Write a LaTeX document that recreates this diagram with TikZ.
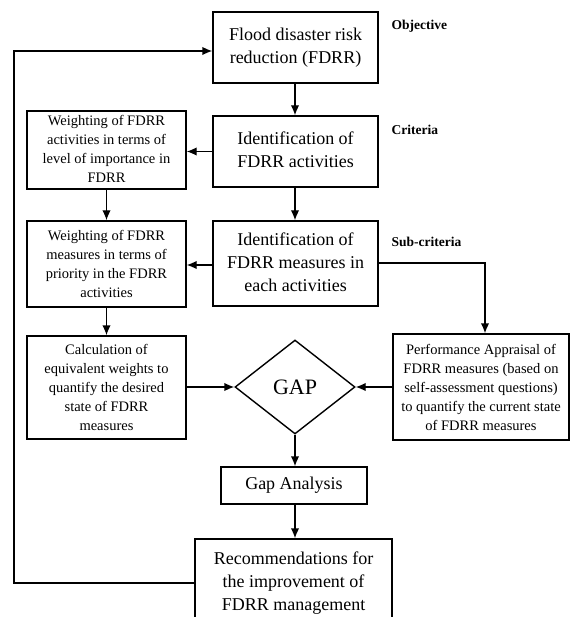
\documentclass[tikz,border=0pt]{standalone}
\usepackage{fontspec}
\setmainfont{Liberation Serif}
\usetikzlibrary{arrows.meta,shapes.geometric}
\newcommand{\upbox}[2]{\raisebox{#1}{\begin{tabular}{@{}c@{}}#2\end{tabular}}}
\tikzset{
  box/.style={draw, line width=1.4pt, rectangle, inner sep=0pt, align=center},
  big/.style={font=\fontsize{18}{23}\selectfont},
  small/.style={font=\fontsize{14.5}{19}\selectfont},
  tag/.style={anchor=west, font=\fontsize{13.5}{16}\selectfont\bfseries},
  arr/.style={line width=1.4pt, -{Latex[length=10pt,width=8.5pt]}},
}
\begin{document}
\begin{tikzpicture}[x=1pt,y=-1pt]
\useasboundingbox (0,0) rectangle (571,617);
% main column
\node[box,big,minimum width=165,minimum height=71] (top) at (295.5,47.5)
  {\upbox{9pt}{Flood disaster risk\\reduction (FDRR)}};
\node[box,big,minimum width=165,minimum height=71] (act) at (295.5,151.5)
  {\upbox{7pt}{Identification of\\FDRR activities}};
\node[box,big,minimum width=165,minimum height=85] (meas) at (295.5,263.5)
  {\upbox{6pt}{Identification of\\FDRR measures in\\each activities}};
% left column
\node[box,small,minimum width=159,minimum height=78] (w1) at (106.5,150)
  {\upbox{-4pt}{Weighting of FDRR\\activities in terms of\\level of importance in\\FDRR}};
\node[box,small,minimum width=159,minimum height=86] (w2) at (106.5,264)
  {Weighting of FDRR\\measures in terms of\\priority in the FDRR\\activities};
\node[box,small,minimum width=159,minimum height=103] (calc) at (106.5,387.5)
  {Calculation of\\equivalent weights to\\quantify the desired\\state of FDRR\\measures};
% gap
\node[draw,line width=1.4pt,diamond,inner sep=0pt,minimum width=120,minimum height=94,
  font=\fontsize{22}{26}\selectfont] (gap) at (295,387) {GAP};
\node[box,small,minimum width=176,minimum height=106] (perf) at (481,387)
  {Performance Appraisal of\\FDRR measures (based on\\self-assessment questions)\\to quantify the current state\\of FDRR measures};
\node[box,big,minimum width=146,minimum height=37] (gapan) at (294,485.5) {Gap Analysis};
\node[box,big,minimum width=197,minimum height=88] (rec) at (293.5,583)
  {\upbox{4pt}{Recommendations for\\the improvement of\\FDRR management}};
% tags
\node[tag] (tobj) at (388,26) {Objective};
\node[tag] (tcrit) at (388,130) {Criteria};
\node[tag] (tsub) at (388,242) {Sub-criteria};
% connectors
\draw[arr] (top.south -| 295,0) -- (act.north -| 295,0);
\draw[arr] (act.south -| 295,0) -- (meas.north -| 295,0);
\draw[arr] (act.west) -- (w1.east |- act.west);
\draw[arr] (w1.south) -- (w2.north);
\draw[arr] (meas.west |- 0,265) -- (w2.east |- 0,265);
\draw[arr] (w2.south) -- (calc.north);
\draw[arr] (calc.east |- gap.west) -- (gap.west);
\coordinate (c1) at (485,263);
\draw[arr] (meas.east |- c1) -- (c1) -- (perf.north -| c1);
\draw[arr] (perf.west |- gap.east) -- (gap.east);
\draw[arr] (gap.south) -- (gapan.north -| gap.south);
\draw[arr] (gapan.south -| 295,0) -- (rec.north -| 295,0);
\coordinate (l1) at (14,583);
\coordinate (l2) at (14,51);
\draw[arr] (rec.west |- l1) -- (l1) -- (l2) -- (top.west |- l2);
\end{tikzpicture}
\end{document}
